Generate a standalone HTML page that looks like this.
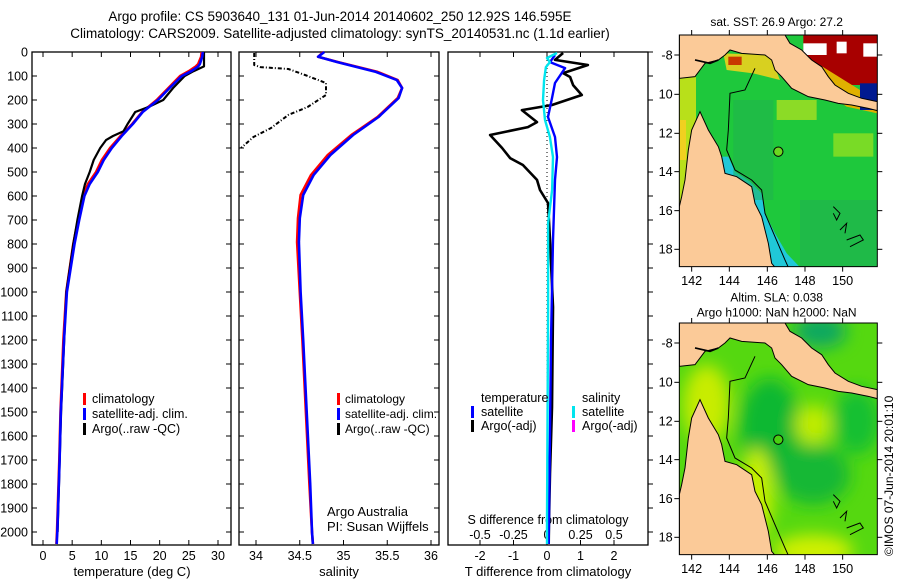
<!DOCTYPE html>
<html><head><meta charset="utf-8"><style>
html,body{margin:0;padding:0;background:#fff;}
svg{display:block;font-family:"Liberation Sans",sans-serif;}
text{fill:#000;}
</style></head>
<body>
<svg id="fig" width="900" height="580" viewBox="0 0 900 580">
<text x="340" y="21" font-size="13.5" text-anchor="middle">Argo profile: CS 5903640_131 01-Jun-2014 20140602_250 12.92S 146.595E</text>
<text x="340" y="38" font-size="13.5" text-anchor="middle">Climatology: CARS2009. Satellite-adjusted climatology: synTS_20140531.nc (1.1d earlier)</text>
<g id="panels"></g>
<g id="maps"></g>
<text transform="translate(893,556) rotate(-90)" font-size="12">©IMOS 07-Jun-2014 20:01:10</text>
</svg>
<script>
// ---------- data ----------
const depthTicks = [0,100,200,300,400,500,600,700,800,900,1000,1100,1200,1300,1400,1500,1600,1700,1800,1900,2000];
const tempTicks = [0,5,10,15,20,25,30];
const salTicks = [34,34.5,35,35.5,36];
const salTickLabels = ["34","34.5","35","35.5","36"];
const tdiffTicks = [-2,-1,0,1,2];
const sdiffTicks = [-0.5,-0.25,0,0.25,0.5];
const sdiffTickLabels = ["-0.5","-0.25","0","0.25","0.5"];

const climTDepth = [0,20,50,60,80,100,150,200,250,300,350,400,450,500,550,600,700,800,1000,1200,1500,1700,2000,2050];
const climT = [27.2,27.1,26.6,26.2,25.0,23.5,21.5,19.5,17.0,15.3,13.3,11.5,10.1,9.1,7.7,6.9,6.0,5.2,4.0,3.5,3.0,2.8,2.4,2.3];
const satT = [27.4,27.3,26.9,26.6,25.4,23.8,21.7,19.7,17.1,15.4,13.5,11.8,10.4,9.4,8.0,7.1,6.2,5.4,4.1,3.6,3.05,2.85,2.45,2.35];
const argoTDepth = [0,60,80,100,150,200,230,250,300,330,350,367,400,450,500,550,600,700,800,1000,1500,2000];
const argoT = [27.6,27.6,25.8,24.3,22.3,20.6,18.0,15.8,14.5,13.8,12.0,10.8,9.8,8.7,8.0,7.2,6.7,5.9,5.2,4.0,3.1,2.5];

const climSDepth = [0,20,42,83,117,150,192,271,346,429,512,596,692,792,1000,1200,1500,1800,2000,2050];
const climS = [34.77,34.71,34.94,35.39,35.62,35.67,35.62,35.39,35.09,34.82,34.63,34.51,34.48,34.47,34.50,34.53,34.57,34.61,34.64,34.65];
const satS = [34.78,34.71,34.93,35.37,35.61,35.67,35.63,35.40,35.11,34.85,34.66,34.54,34.50,34.49,34.51,34.54,34.58,34.62,34.64,34.65];
const argoSDepth = [4,54,63,71,96,129,179,229,262,317,354,400];
const argoS = [33.98,33.98,34.05,34.37,34.56,34.80,34.80,34.59,34.37,34.17,33.97,33.83];

const dTArgoDepth = [4,33,54,88,104,138,179,221,242,292,313,346,400,442,471,533,575,629,783,1063,1479,1754,1950,2050];
const dTArgo = [0.48,0.24,1.22,0.48,0.69,0.78,1.04,0.15,-0.75,-0.30,-0.57,-1.70,-1.34,-1.10,-0.72,-0.30,-0.21,0.03,0.09,0.18,0.15,0.09,0.06,0.05];
const dTSatDepth = [13,42,67,129,192,271,354,438,533,783,1200,1950,2050];
const dTSat = [0.24,0.09,0.54,0.24,0.15,0.03,0.24,0.30,0.24,0.18,0.12,0.06,0.05];
const dSSatDepth = [4,25,42,63,117,200,283,354,438,575,713,1063,1950,2050];
const dSSat = [0.075,0,0.022,-0.008,-0.022,-0.03,-0.015,0.022,0.045,0.038,0.008,0.008,0,0];

// ---------- helpers ----------
const NS="http://www.w3.org/2000/svg";
const root=document.getElementById('panels');
function mk(tag,attrs,parent){const e=document.createElementNS(NS,tag);for(const k in attrs)e.setAttribute(k,attrs[k]);(parent||root).appendChild(e);return e;}
const Y0=52, DY=0.24;
function yD(d){return Y0+d*DY;}
function xT(t){return 43+t*5.833;}
function xS(s){return 256+(s-34)*87.5;}
function xdT(t){return 547+t*33.5;}
function xdS(s){return 547+s*134;}
function line(depths,vals,xf,color,w,name,dash){
  const pts=depths.map((d,i)=>xf(vals[i]).toFixed(1)+','+yD(d).toFixed(1)).join(' ');
  const e=mk('polyline',{points:pts,fill:'none',stroke:color,'stroke-width':w,'stroke-linejoin':'round'});
  if(dash)e.setAttribute('stroke-dasharray',dash);
  
  
  return e;
}
function axesBox(x0,x1,name,leftLabels){
  const b=mk('rect',{x:x0,y:52,width:x1-x0,height:493,fill:'none',stroke:'#000','stroke-width':1.3});
  
  
  depthTicks.forEach(d=>{
    const y=yD(d);
    mk('line',{x1:x0,x2:x0+5,y1:y,y2:y,stroke:'#000'});
    mk('line',{x1:x1,x2:x1-5,y1:y,y2:y,stroke:'#000'});
    if(leftLabels){
      const t=mk('text',{x:x0-4,y:y+4.5,'font-size':12.5,'text-anchor':'end'});
      t.textContent=d;
      
      
    }
  });
}
function xTicks(ticks,labels,xf,y,x0,x1,name){
  ticks.forEach((v,i)=>{
    const x=xf(v);
    mk('line',{x1:x,x2:x,y1:545,y2:540,stroke:'#000'});
    mk('line',{x1:x,x2:x,y1:52,y2:57,stroke:'#000'});
    const t=mk('text',{x:x,y:y,'font-size':12.5,'text-anchor':'middle'});
    t.textContent=labels?labels[i]:v;
    
    
  });
}
function label(x,y,txt,name,anchor,size){
  const t=mk('text',{x:x,y:y,'font-size':size||12.5,'text-anchor':anchor||'start'});
  t.textContent=txt;
  
  
}
function legBar(x,y,color,name){
  const r=mk('rect',{x:x,y:y-11,width:3,height:12,fill:color});
  
  
}

// Panel 1: temperature
axesBox(32,231,'temperature-axes',true);
xTicks(tempTicks,null,xT,560,32,231,'temperature-tick-label');
label(132,576,'temperature (deg C)','temperature-x-axis-title','middle',13);
line(climTDepth,climT,xT,'#ff0000',2.6,'temperature-climatology-line');
line(argoTDepth,argoT,xT,'#000000',2.2,'temperature-argo-line');
line(climTDepth,satT,xT,'#0000ff',2.6,'temperature-satellite-line');
legBar(83,404,'#ff0000','legend-climatology-swatch');label(92,403,'climatology','legend-climatology-label');
legBar(83,419,'#0000ff','legend-satellite-swatch');label(92,418,'satellite-adj. clim.','legend-satellite-label');
legBar(83,434,'#000000','legend-argo-swatch');label(92,433,'Argo(..raw -QC)','legend-argo-label');

// Panel 2: salinity
axesBox(239,439,'salinity-axes',false);
xTicks(salTicks,salTickLabels,xS,560,239,439,'salinity-tick-label');
label(339,576,'salinity','salinity-x-axis-title','middle',13);
line(climSDepth,climS,xS,'#ff0000',2.6,'salinity-climatology-line');
line(climSDepth,satS,xS,'#0000ff',2.6,'salinity-satellite-line');
line(argoSDepth,argoS,xS,'#000000',2,'salinity-argo-line','4 2 1 2');
legBar(337,404,'#ff0000','legend2-climatology-swatch');label(345,403,'climatology','legend2-climatology-label','start',12);
legBar(337,419,'#0000ff','legend2-satellite-swatch');label(345,418,'satellite-adj. clim.','legend2-satellite-label','start',12);
legBar(337,434,'#000000','legend2-argo-swatch');label(345,433,'Argo(..raw -QC)','legend2-argo-label','start',12);
label(327,516,'Argo Australia','argo-australia-note','start',13);
label(327,531,'PI: Susan Wijffels','pi-note','start',13);

// Panel 3: differences
(function(){
  const b=mk('rect',{x:448,y:52,width:200,height:493,fill:'none',stroke:'#000','stroke-width':1.3});
  
  
  depthTicks.forEach(d=>{const y=yD(d);mk('line',{x1:648,x2:653,y1:y,y2:y,stroke:'#000'});});
  tdiffTicks.forEach(v=>{const x=xdT(v);mk('line',{x1:x,x2:x,y1:545,y2:540,stroke:'#000'});mk('line',{x1:x,x2:x,y1:52,y2:57,stroke:'#000'});
    const t=mk('text',{x:x,y:560,'font-size':12.5,'text-anchor':'middle'});t.textContent=v;
    
    });
  sdiffTicks.forEach((v,i)=>{const t=mk('text',{x:xdS(v),y:539,'font-size':12.5,'text-anchor':'middle'});t.textContent=sdiffTickLabels[i];
    
    });
  const z=mk('line',{x1:547,x2:547,y1:52,y2:545,stroke:'#000','stroke-dasharray':'1 3'});
  
  
})();
label(548,524,'S difference from climatology','s-diff-axis-title','middle',12.5);
label(548,576,'T difference from climatology','t-diff-axis-title','middle',13);
line(dTArgoDepth,dTArgo,xdT,'#000000',2.6,'t-diff-argo-line');
line(dTSatDepth,dTSat,xdT,'#0000ff',2.4,'t-diff-satellite-line');
line(dSSatDepth,dSSat,xdS,'#00e5ee',2.4,'s-diff-satellite-line');
label(481,402,'temperature','legend3-temperature-header');
legBar(471,417,'#0000ff','legend3-t-satellite-swatch');label(481,416,'satellite','legend3-t-satellite-label');
legBar(471,431,'#000000','legend3-t-argo-swatch');label(481,430,'Argo(-adj)','legend3-t-argo-label');
label(582,402,'salinity','legend3-salinity-header');
legBar(572,417,'#00e5ee','legend3-s-satellite-swatch');label(582,416,'satellite','legend3-s-satellite-label');
legBar(572,431,'#ff00ff','legend3-s-argo-swatch');label(582,430,'Argo(-adj)','legend3-s-argo-label');
</script>
<script>
// ---------- maps (drawn in 3x-scaled local coords) ----------
(function(){
const NS="http://www.w3.org/2000/svg";
const maps=document.getElementById('maps');
const png="58,105 375,105 390,130 425,150 455,180 485,200 505,230 525,255 565,280 605,295 652,305 652,332 625,325 575,315 535,310 495,300 445,290 395,265 365,230 345,210 335,180 315,165 245,160 210,150 195,165 175,180 135,190 105,230 58,235";
const aus="58,620 65,590 75,540 85,450 95,390 120,335 145,390 175,440 185,470 195,520 230,530 275,560 285,610 305,650 325,730 335,790 345,802 58,802";
const cyan="185,470 195,520 230,530 275,560 285,610 305,650 325,730 335,790 345,802 420,802 380,760 345,700 315,640 305,580 270,545 225,515 205,470";
const isobath="285,205 255,270 210,280 205,390 200,450 225,510 275,540 305,570 315,640 345,710 375,780 385,802";
const islands="520,620 540,640 530,660 520,640 M540,690 560,670 555,700 M560,720 600,705 610,720 570,740";
function map(oy,kind,name,t1,t2){
  const g=document.createElementNS(NS,'g');
  g.setAttribute('transform','translate(660,'+oy+') scale(0.3333)');
  
  
  maps.appendChild(g);
  let h='<defs><clipPath id="c'+kind+'"><rect x="58" y="105" width="594" height="695"/></clipPath><filter id="b'+kind+'"><feGaussianBlur stdDeviation="25"/></filter></defs>';
  h+='<g clip-path="url(#c'+kind+')">';
  if(kind==='sst'){
    h+='<rect x="58" y="105" width="594" height="695" fill="#1ec83c"/>';
    h+='<rect x="58" y="230" width="50" height="400" fill="#b8e01a"/><rect x="58" y="360" width="20" height="120" fill="#f0d020"/>';
    h+='<polygon points="190,160 330,165 360,240 280,220 200,210" fill="#d8d020"/><rect x="205" y="170" width="40" height="25" fill="#c83a00"/>';
    h+='<rect x="430" y="105" width="222" height="150" fill="#a80000"/><rect x="530" y="125" width="30" height="35" fill="#fff"/><rect x="430" y="130" width="70" height="35" fill="#fff"/><rect x="610" y="130" width="42" height="40" fill="#fff"/>';
    h+='<polygon points="455,180 520,220 600,270 652,270 652,340 560,320 470,260" fill="#e0b000"/><rect x="600" y="250" width="52" height="80" fill="#001a90"/>';
    h+='<polygon points="'+cyan+'" fill="#20c8d8"/>';
    h+='<rect x="350" y="300" width="120" height="60" fill="#a8e020" opacity="0.8"/><rect x="520" y="400" width="120" height="70" fill="#90e020" opacity="0.8"/>';
    h+='<rect x="220" y="300" width="120" height="300" fill="#20b050" opacity="0.5"/><rect x="420" y="600" width="232" height="200" fill="#20b050" opacity="0.6"/>';
  } else {
    h+='<rect x="58" y="105" width="594" height="695" fill="#55d810"/>';
    h+='<g filter="url(#b'+kind+')"><ellipse cx="330" cy="420" rx="90" ry="150" fill="#10b830"/><ellipse cx="460" cy="560" rx="110" ry="90" fill="#12b835"/><ellipse cx="590" cy="400" rx="70" ry="100" fill="#18c030"/>';
    h+='<ellipse cx="460" cy="410" rx="55" ry="60" fill="#c0ec00"/><ellipse cx="140" cy="350" rx="70" ry="120" fill="#c8ec00"/><ellipse cx="460" cy="790" rx="120" ry="50" fill="#d0f000"/><ellipse cx="290" cy="620" rx="50" ry="140" fill="#c8f000"/>';
    h+='<ellipse cx="480" cy="130" rx="80" ry="50" fill="#10a860"/></g>';
  }
  h+='<polygon points="'+png+'" fill="#fbca98" stroke="#000" stroke-width="3"/>';
  h+='<polygon points="'+aus+'" fill="#fbca98" stroke="#000" stroke-width="3"/>';
  h+='<polyline points="'+isobath+'" fill="none" stroke="#000" stroke-width="3"/>';
  h+='<path d="M'+islands+'" fill="none" stroke="#000" stroke-width="3"/>';
  h+='<polyline points="105,180 150,190 175,180" fill="none" stroke="#000" stroke-width="5"/>';
  h+='</g>';
  h+='<circle cx="355" cy="455" r="14" fill="'+(kind==='sst'?'#6cd820':'#48d010')+'" stroke="#000" stroke-width="3"/>';
  h+='<rect x="58" y="105" width="594" height="695" fill="none" stroke="#000" stroke-width="3"/>';
  const lons=[95,208,322,435,548], lonL=["142","144","146","148","150"];
  lons.forEach((x,i)=>{h+='<line x1="'+x+'" x2="'+x+'" y1="105" y2="90" stroke="#000" stroke-width="3"/><line x1="'+x+'" x2="'+x+'" y1="800" y2="815" stroke="#000" stroke-width="3"/><text x="'+x+'" y="855" font-size="38" text-anchor="middle">'+lonL[i]+'</text>';});
  const lats=[165,283,400,515,632,748], latL=["-8","10","12","14","16","18"];
  lats.forEach((y,i)=>{h+='<line x1="58" x2="43" y1="'+y+'" y2="'+y+'" stroke="#000" stroke-width="3"/><line x1="652" x2="667" y1="'+y+'" y2="'+y+'" stroke="#000" stroke-width="3"/><text x="38" y="'+(y+13)+'" font-size="38" text-anchor="end">'+latL[i]+'</text>';});
  if(t2){h+='<text x="350" y="40" font-size="36" text-anchor="middle">'+t1+'</text><text x="350" y="85" font-size="36" text-anchor="middle">'+t2+'</text>';}
  else h+='<text x="350" y="78" font-size="36" text-anchor="middle">'+t1+'</text>';
  g.innerHTML=h;
}
map(0,'sst','sst-map','sat. SST: 26.9 Argo: 27.2');
map(288,'sla','sla-map','Altim. SLA: 0.038','Argo h1000: NaN h2000: NaN');
})();
</script>
</body></html>
